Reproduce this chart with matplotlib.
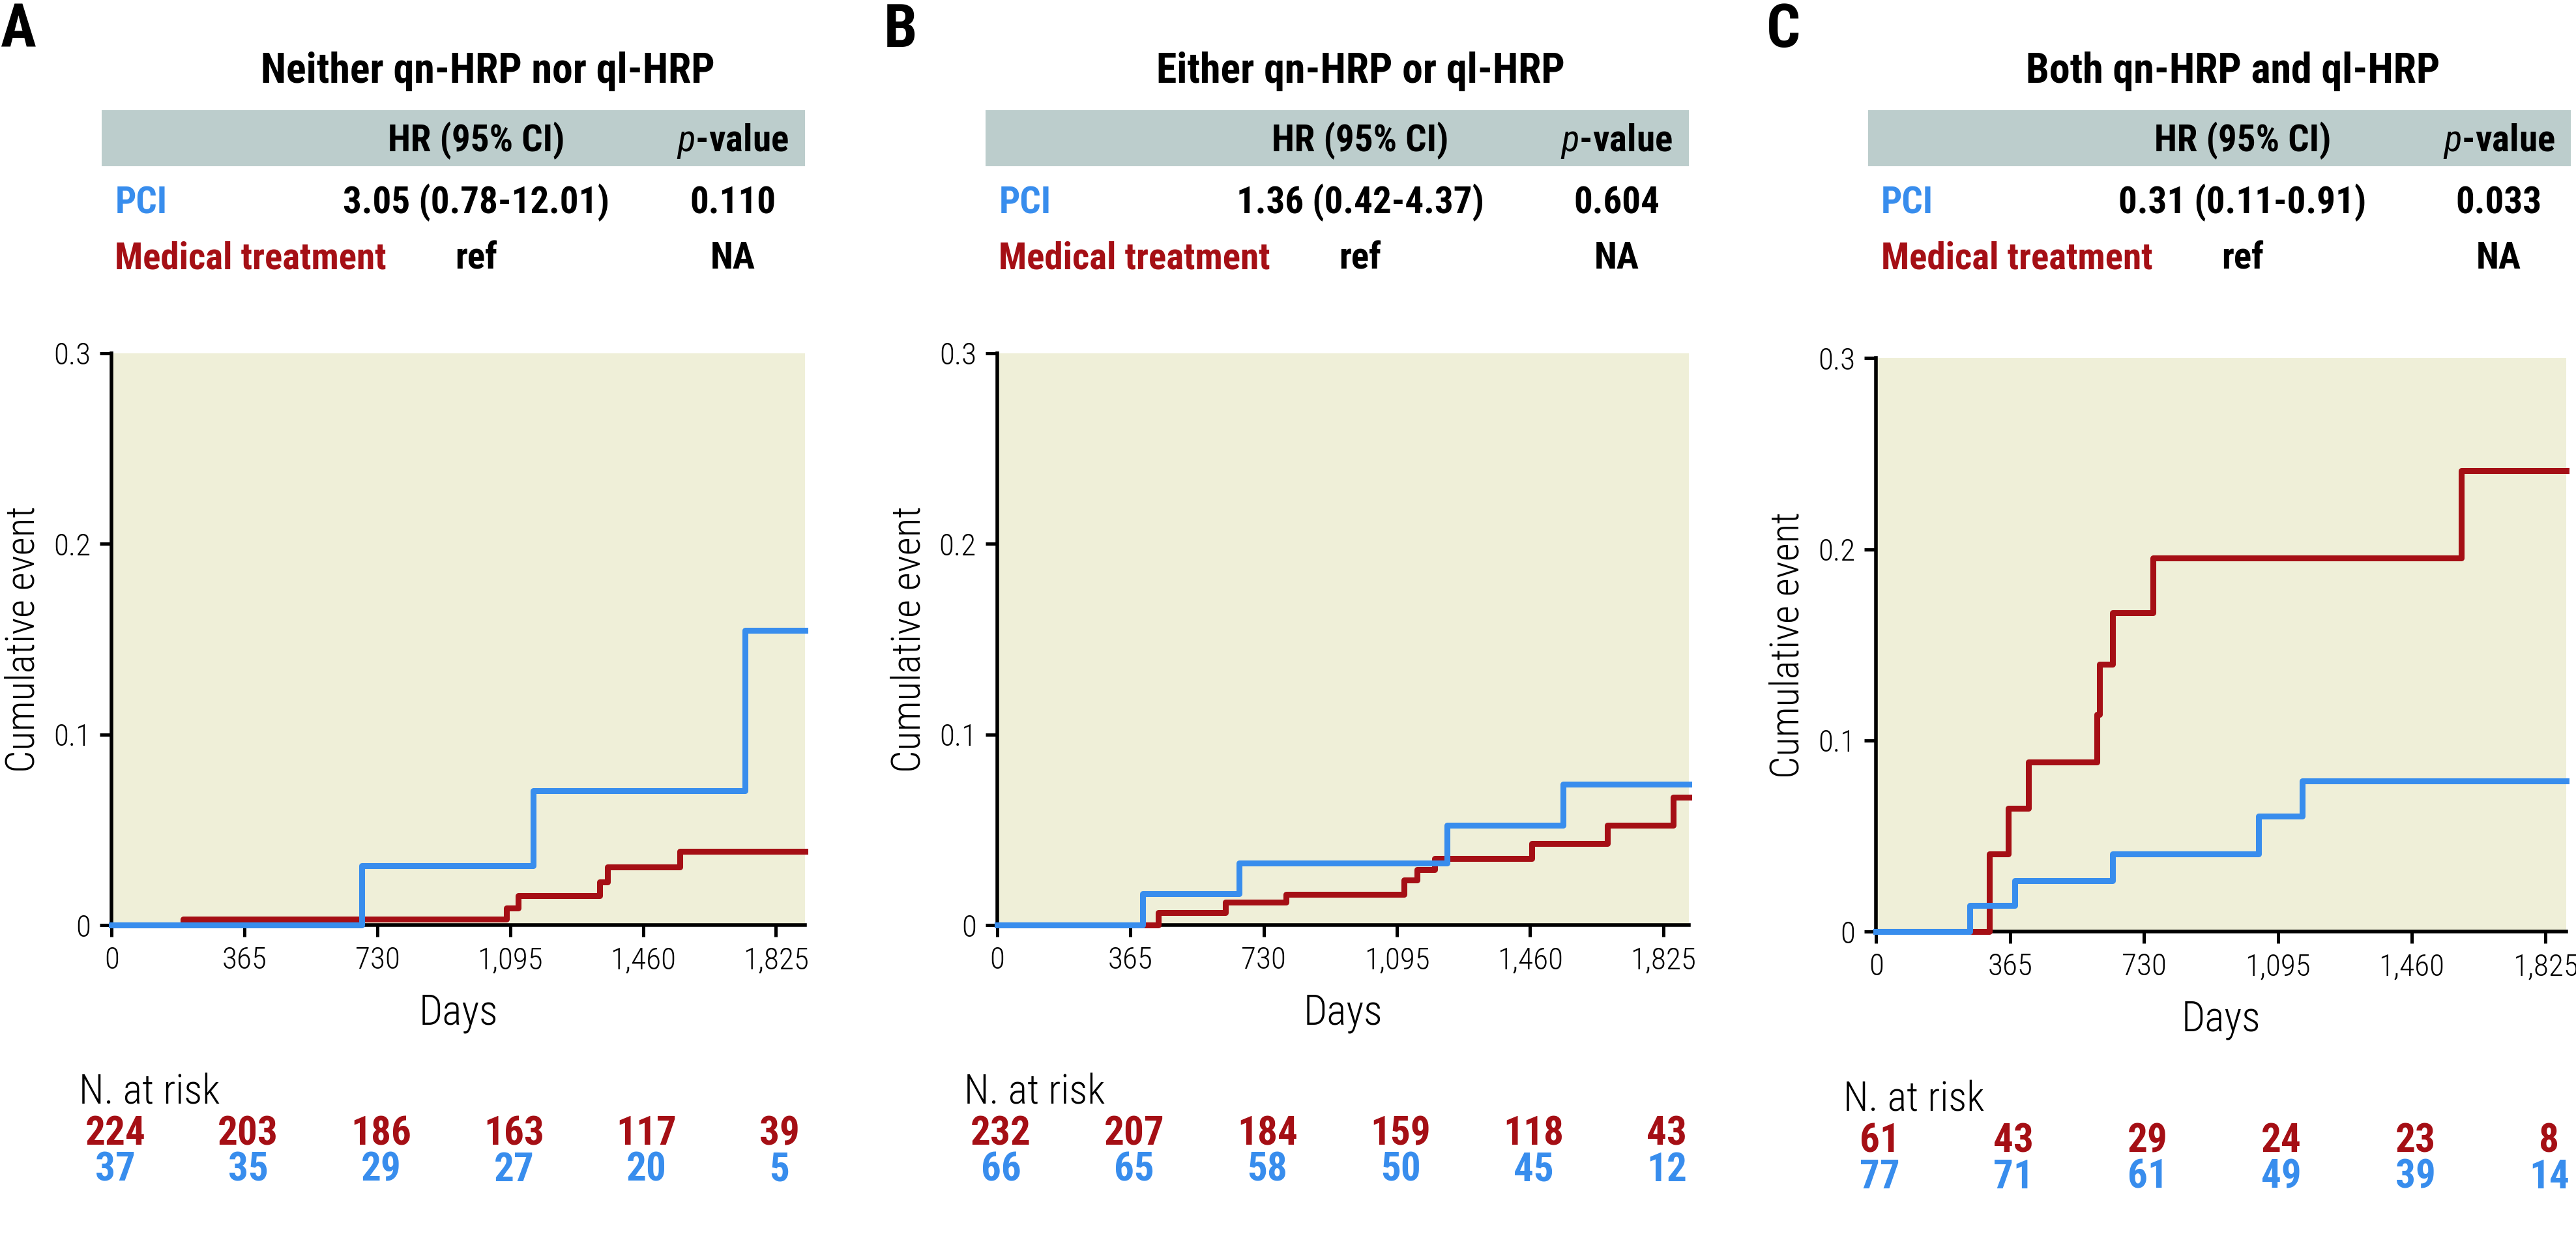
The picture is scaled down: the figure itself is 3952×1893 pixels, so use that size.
import matplotlib
matplotlib.use('Agg')
import matplotlib.pyplot as plt
from matplotlib import font_manager
from matplotlib.patches import Rectangle

# pick a narrow font if one is around
fonts = font_manager.fontManager.ttflist
names = {f.name for f in fonts}
if 'Roboto Condensed' in names:
    FAM, STRETCH = 'Roboto Condensed', 'normal'
elif 'Liberation Sans Narrow' in names:
    FAM, STRETCH = 'Liberation Sans Narrow', 'normal'
elif any(f.name == 'DejaVu Sans' and f.stretch == 'condensed' for f in fonts):
    FAM, STRETCH = 'DejaVu Sans', 'condensed'
else:
    FAM, STRETCH = 'DejaVu Sans', 'normal'
plt.rcParams['font.family'] = FAM
plt.rcParams['font.stretch'] = STRETCH
plt.rcParams['mathtext.fontset'] = 'custom'
plt.rcParams['mathtext.it'] = FAM + ':italic'
plt.rcParams['mathtext.rm'] = FAM + ':bold'

BLUE = '#388ded'
RED = '#a50f15'
SHADE = '#efefd8'
BAND = '#bccdcc'

day_ticks = [0, 365, 730, 1095, 1460, 1825]
day_labels = ['0', '365', '730', '1,095', '1,460', '1,825']

# panel A: neither
a_pci_t = [0, 687, 1159, 1740, 1905]
a_pci_y = [0, 0.031, 0.0706, 0.1547, 0.1547]
a_med_t = [0, 197, 1085, 1117, 1340, 1362, 1562, 1905]
a_med_y = [0, 0.003, 0.0091, 0.0156, 0.0227, 0.0306, 0.0388, 0.0388]
a_risk_med = [224, 203, 186, 163, 117, 39]
a_risk_pci = [37, 35, 29, 27, 20, 5]

# panel B: either
b_pci_t = [0, 399, 662, 1233, 1550, 1895]
b_pci_y = [0, 0.0163, 0.0324, 0.0523, 0.0739, 0.0739]
b_med_t = [0, 441, 625, 792, 1114, 1150, 1198, 1464, 1671, 1852, 1895]
b_med_y = [0, 0.0067, 0.012, 0.016, 0.0235, 0.029, 0.0348, 0.0427, 0.0523, 0.0671, 0.0671]
b_risk_med = [232, 207, 184, 159, 118, 43]
b_risk_pci = [66, 65, 58, 50, 45, 12]

# panel C: both
c_pci_t = [0, 256, 378, 644, 1043, 1162, 1881]
c_pci_y = [0, 0.0136, 0.0268, 0.0407, 0.0603, 0.079, 0.079]
c_med_t = [0, 309, 361, 415, 601, 609, 645, 754, 1595, 1881]
c_med_y = [0, 0.0407, 0.0646, 0.0886, 0.1137, 0.140, 0.167, 0.1956, 0.2413, 0.2413]
c_risk_med = [61, 43, 29, 24, 23, 8]
c_risk_pci = [77, 71, 61, 49, 39, 14]

W, H = 1568.0, 751.0  # layout measured on the small view
fig = plt.figure(figsize=(39.52, 18.93), dpi=100)


def fx(x):
    return x / W


def fy(y):
    return 1 - y / H


def panel(L, title_x, ax_left, ax_right, ax_top, ax_bot, letter, title, hr, pval,
          pci_t, pci_y, med_t, med_y, risk_med, risk_pci):
    fig.text(fx(L - 62), fy(28.6), letter, fontsize=66, fontweight='bold', va='baseline', ha='left')
    fig.text(fx(title_x), fy(50.5), title, fontsize=46, fontweight='bold', ha='center', va='baseline')
    fig.patches.append(Rectangle((fx(L), fy(101)), fx(428), 34 / H, transform=fig.transFigure,
                                 facecolor=BAND, edgecolor='none'))
    kw = dict(fontsize=41, fontweight='bold', va='baseline')
    fig.text(fx(L + 228), fy(92), 'HR (95% CI)', ha='center', **kw)
    fig.text(fx(L + 384), fy(92), r'$p$-value', ha='center', **kw)
    fig.text(fx(L + 8), fy(130), 'PCI', color=BLUE, **kw)
    fig.text(fx(L + 228), fy(130), hr, ha='center', **kw)
    fig.text(fx(L + 384), fy(130), pval, ha='center', **kw)
    fig.text(fx(L + 8), fy(163.5), 'Medical treatment', color=RED, **kw)
    fig.text(fx(L + 228), fy(163.5), 'ref', ha='center', **kw)
    fig.text(fx(L + 384), fy(163.5), 'NA', ha='center', **kw)

    ax = fig.add_axes([fx(ax_left), fy(ax_bot), fx(ax_right - ax_left), (ax_bot - ax_top) / H])
    ax.set_facecolor(SHADE)
    ax.step(med_t, med_y, where='post', color=RED, lw=6.5, clip_on=False, zorder=4)
    ax.step(pci_t, pci_y, where='post', color=BLUE, lw=6.5, clip_on=False, zorder=5)
    ax.set_xlim(0, pci_t[-1])
    ax.set_ylim(0, 0.3)
    ax.set_xticks(day_ticks)
    ax.set_xticklabels(day_labels, fontweight='light')
    ax.set_yticks([0, 0.1, 0.2, 0.3])
    ax.set_yticklabels(['0', '0.1', '0.2', '0.3'], fontweight='light')
    for s in ['top', 'right']:
        ax.spines[s].set_visible(False)
    for s in ['left', 'bottom']:
        ax.spines[s].set_linewidth(4)
        ax.spines[s].set_zorder(3)
    ax.tick_params(direction='out', length=13, width=3.6, labelsize=34, pad=10)
    ax.set_xlabel('Days', fontsize=46, fontweight='light', labelpad=20)
    ax.set_ylabel('Cumulative event', fontsize=44, fontweight='light', va='center')
    ax.yaxis.set_label_coords(-0.128, 0.5)

    tr = ax.get_xaxis_transform()
    ax.text(-90, -0.293, 'N. at risk', transform=tr, fontsize=45, fontweight='light',
            ha='left', va='center', clip_on=False)
    for d, m, p in zip(day_ticks, risk_med, risk_pci):
        ax.text(d + 10, -0.365, str(m), transform=tr, fontsize=44, fontweight='bold', color=RED,
                ha='center', va='center', clip_on=False)
        ax.text(d + 10, -0.428, str(p), transform=tr, fontsize=44, fontweight='bold', color=BLUE,
                ha='center', va='center', clip_on=False)


panel(62, 297, 68, 490, 215, 563, 'A', 'Neither qn-HRP nor ql-HRP', '3.05 (0.78-12.01)', '0.110',
      a_pci_t, a_pci_y, a_med_t, a_med_y, a_risk_med, a_risk_pci)
panel(600, 828, 607, 1028, 215, 563, 'B', 'Either qn-HRP or ql-HRP', '1.36 (0.42-4.37)', '0.604',
      b_pci_t, b_pci_y, b_med_t, b_med_y, b_risk_med, b_risk_pci)
panel(1137, 1359, 1142, 1562, 218, 567, 'C', 'Both qn-HRP and ql-HRP', '0.31 (0.11-0.91)', '0.033',
      c_pci_t, c_pci_y, c_med_t, c_med_y, c_risk_med, c_risk_pci)

fig.savefig('out.png', dpi=100)
